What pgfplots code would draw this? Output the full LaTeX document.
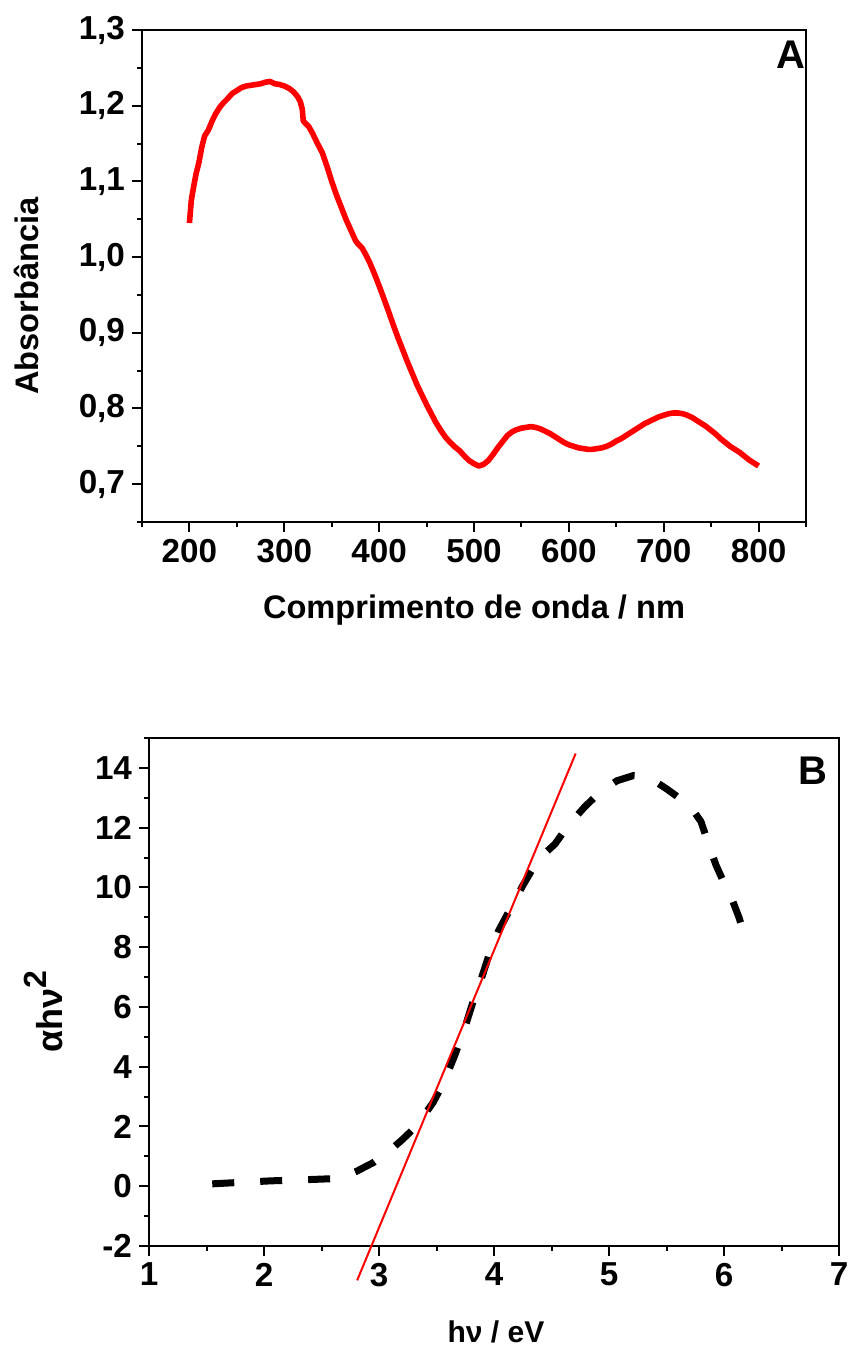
\documentclass[border=0pt]{standalone}
\usepackage{fontspec}
\setmainfont{Liberation Sans}
\usepackage{pgfplots}
\pgfplotsset{compat=1.18}
\begin{document}
\begin{tikzpicture}
\useasboundingbox (0,0) rectangle (424pt,674pt);
\pgfplotsset{
 common/.style={
  scale only axis,
  axis line style={line width=1pt},
  every tick/.style={black, line width=1pt},
  major tick length=5pt, minor tick length=2.5pt,
  tick align=outside,
  xtick pos=left, ytick pos=left,
  tick label style={font=\bfseries\fontsize{16.6}{19}\selectfont},
  /pgf/number format/assume math mode=true,
 }
}
\begin{axis}[common, at={(71pt,413pt)}, anchor=south west, width=332pt, height=246pt,
 xmin=150,xmax=850,ymin=0.65,ymax=1.3,
 xtick={200,300,400,500,600,700,800}, minor xtick={150,250,350,450,550,650,750,850},
 ytick={0.7,0.8,0.9,1.0,1.1,1.2,1.3}, minor ytick={0.65,0.75,0.85,0.95,1.05,1.15,1.25},
 yticklabel style={/pgf/number format/.cd, fixed, fixed zerofill, precision=1, use comma},
 ]
\addplot[red, line width=2.8pt, line join=round] table {
200 1.045
202 1.075
204 1.090
207 1.110
210 1.125
213 1.145
216 1.160
220 1.168
224 1.180
228 1.190
232 1.198
236 1.204
240 1.209
245 1.216
250 1.220
255 1.224
260 1.226
265 1.227
270 1.228
275 1.229
280 1.231
285 1.232
290 1.229
295 1.228
300 1.226
305 1.223
310 1.218
314 1.212
317 1.205
319 1.195
320 1.180
322 1.177
326 1.172
330 1.163
335 1.150
340 1.138
345 1.120
350 1.100
355 1.082
360 1.066
365 1.050
370 1.036
375 1.022
378 1.017
382 1.012
386 1.003
390 0.993
395 0.978
400 0.962
405 0.945
410 0.928
415 0.910
420 0.893
425 0.877
430 0.861
435 0.846
440 0.831
445 0.818
450 0.805
455 0.793
460 0.781
465 0.771
470 0.762
475 0.755
480 0.749
485 0.744
490 0.737
495 0.731
500 0.727
505 0.724
510 0.726
515 0.731
520 0.739
525 0.748
530 0.756
535 0.764
540 0.769
545 0.772
550 0.774
555 0.775
560 0.776
565 0.775
570 0.773
575 0.770
580 0.767
585 0.763
590 0.759
595 0.755
600 0.752
605 0.750
610 0.748
615 0.747
620 0.746
625 0.746
630 0.747
635 0.748
640 0.750
645 0.753
650 0.757
655 0.760
660 0.764
665 0.768
670 0.772
675 0.776
680 0.780
685 0.783
690 0.786
695 0.789
700 0.791
705 0.793
710 0.794
715 0.794
720 0.793
725 0.791
730 0.788
735 0.784
740 0.780
745 0.776
750 0.771
755 0.766
760 0.760
765 0.755
770 0.750
775 0.746
780 0.742
785 0.737
790 0.732
795 0.728
800 0.724
};
\node[font=\bfseries\fontsize{20}{24}\selectfont, anchor=north east, inner sep=0pt] at (rel axis cs:1,0.978) {A};
\end{axis}
\begin{axis}[common, at={(74.5pt,51pt)}, anchor=south west, width=345pt, height=254pt,
 xmin=1,xmax=7,ymin=-2,ymax=15, clip=false,
 xtick={1,2,3,4,5,6,7}, minor xtick={1.5,2.5,3.5,4.5,5.5,6.5},
 ytick={-2,0,2,4,6,8,10,12,14}, minor ytick={-1,1,3,5,7,9,11,13,15},
 ]
\addplot[black, line width=3.5pt, dash pattern=on 11pt off 13pt] coordinates {
(1.55,0.08) (1.8,0.13) (2.06,0.18) (2.3,0.21) (2.58,0.25) (2.72,0.36) (2.81,0.51)
(2.95,0.79) (3.08,1.15) (3.20,1.55) (3.33,2.03) (3.47,2.80) (3.56,3.45) (3.66,4.39)
(3.75,5.35) (3.82,6.20) (3.89,6.95) (3.96,7.78) (4.04,8.55) (4.13,9.20) (4.25,10.06)
(4.34,10.65) (4.43,11.10) (4.53,11.45) (4.65,12.10) (4.79,12.70) (4.93,13.22) (5.07,13.57)
(5.21,13.74) (5.30,13.72) (5.40,13.55) (5.50,13.30) (5.59,13.05) (5.71,12.70) (5.80,12.20)
(5.87,11.40) (5.93,10.75) (6.00,10.15) (6.07,9.60) (6.13,9.00) (6.20,8.12)
};
\addplot[red, line width=1pt] coordinates {(2.81,-3.15) (4.71,14.48)};
\node[font=\bfseries\fontsize{20}{24}\selectfont, anchor=north east, inner sep=0pt] at (rel axis cs:0.984,0.9626) {B};
\end{axis}
\node[font=\bfseries\fontsize{16.3}{19}\selectfont, anchor=base, inner sep=0pt] at (237pt,364.5pt) {Comprimento de onda / nm};
\node[font=\bfseries\fontsize{16.3}{19}\selectfont, rotate=90, anchor=base, inner sep=0pt] at (19pt,526pt) {Absorbância};
\node[font=\bfseries\fontsize{15}{18}\selectfont, anchor=base, inner sep=0pt] at (248pt,2.5pt) {hν / eV};
\node[font=\bfseries\fontsize{18}{21}\selectfont, rotate=90, anchor=base, inner sep=0pt] at (31pt,168pt) {αhν\raisebox{0.42em}{\fontsize{16}{18}\selectfont 2}};
\end{tikzpicture}
\end{document}
